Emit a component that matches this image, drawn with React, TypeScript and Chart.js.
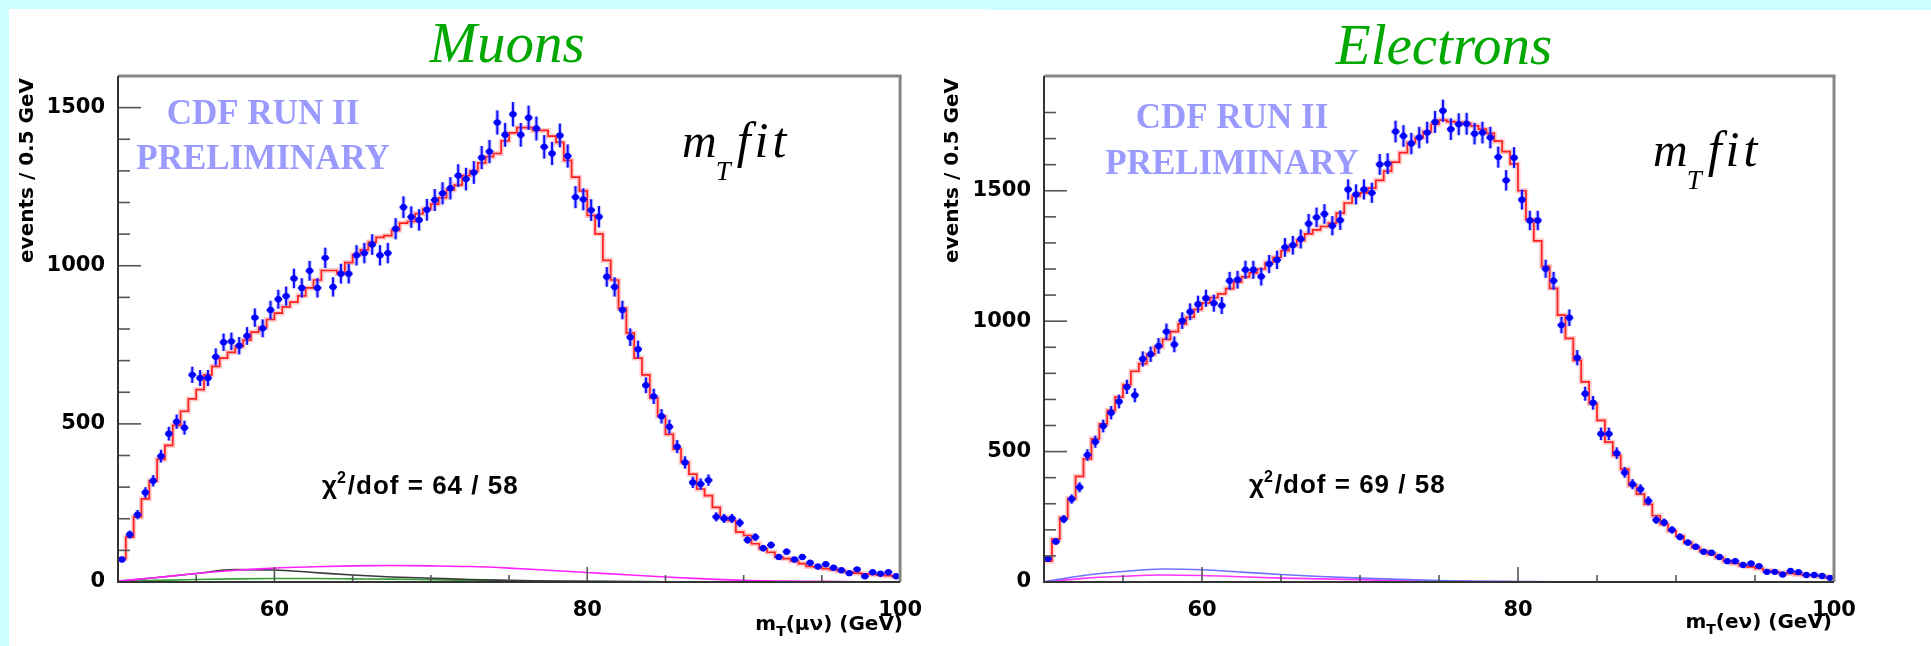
import React, { useEffect, useRef } from "react";
import { Chart, registerables } from "chart.js";

Chart.register(...registerables);
Chart.defaults.font.family = "DejaVu Sans";

// ---------- data ----------
const BIN_LOW = 50;
const BIN_WIDTH = 0.5;
const X_MIN = 50;
const X_MAX = 100;
const X_TICK_LABELS = [60, 80, 100];
const Y_TICK_LABELS = [0, 500, 1000, 1500];

const MUON_DATA = [
  71, 150, 213, 283, 320, 398, 469, 507, 488, 655,
  645, 645, 712, 758, 761, 747, 778, 836, 802, 860,
  894, 904, 960, 930, 984, 930, 1025, 933, 975, 975,
  1033, 1040, 1067, 1033, 1040, 1117, 1185, 1154, 1145, 1177,
  1208, 1229, 1245, 1285, 1274, 1295, 1342, 1361, 1453, 1414,
  1479, 1414, 1468, 1434, 1376, 1355, 1412, 1347, 1217, 1210,
  1176, 1155, 965, 933, 860, 774, 736, 622, 587, 524,
  491, 428, 378, 315, 310, 322, 206, 201, 201, 187,
  133, 142, 107, 117, 79, 96, 71, 79, 61, 49,
  56, 45, 37, 28, 40, 18, 31, 26, 31, 18,
];
const MUON_FIT = [
  75, 142, 206, 263, 320, 388, 432, 495, 540, 579,
  608, 655, 682, 708, 726, 745, 765, 790, 805, 830,
  850, 870, 885, 905, 930, 955, 985, 985, 975, 1010,
  1035, 1050, 1075, 1090, 1095, 1112, 1135, 1140, 1165, 1180,
  1195, 1215, 1240, 1255, 1285, 1300, 1325, 1345, 1355, 1395,
  1420, 1437, 1437, 1428, 1428, 1410, 1390, 1333, 1280, 1237,
  1159, 1101, 1017, 955, 866, 787, 708, 655, 582, 524,
  467, 420, 378, 341, 294, 273, 236, 204, 194, 158,
  147, 121, 105, 94, 79, 74, 66, 58, 49, 47,
  42, 39, 34, 31, 28, 26, 24, 22, 20, 18,
];
const ELEC_DATA = [
  89, 155, 241, 318, 363, 487, 538, 598, 649, 692,
  748, 716, 855, 873, 905, 960, 911, 1002, 1036, 1065,
  1088, 1069, 1060, 1155, 1159, 1197, 1197, 1171, 1219, 1235,
  1283, 1291, 1315, 1374, 1398, 1411, 1366, 1387, 1505, 1486,
  1505, 1492, 1601, 1604, 1727, 1710, 1681, 1704, 1723, 1764,
  1807, 1736, 1755, 1757, 1719, 1723, 1704, 1629, 1540, 1627,
  1466, 1386, 1386, 1201, 1155, 985, 1013, 860, 722, 687,
  568, 568, 494, 420, 375, 356, 311, 238, 228, 200,
  173, 151, 135, 116, 112, 96, 80, 80, 65, 71,
  61, 39, 39, 29, 42, 38, 27, 27, 23, 16,
];
const ELEC_FIT = [
  80, 164, 247, 320, 405, 472, 549, 606, 658, 709,
  757, 808, 837, 872, 901, 930, 960, 990, 1015, 1045,
  1070, 1090, 1105, 1125, 1150, 1170, 1185, 1200, 1225, 1245,
  1270, 1290, 1310, 1335, 1350, 1363, 1376, 1414, 1453, 1480,
  1492, 1510, 1540, 1575, 1610, 1646, 1685, 1704, 1727, 1755,
  1771, 1765, 1762, 1758, 1749, 1736, 1720, 1690, 1650, 1603,
  1500, 1390, 1308, 1210, 1126, 1023, 934, 850, 767, 684,
  620, 536, 485, 433, 370, 337, 298, 254, 221, 196,
  176, 151, 132, 119, 106, 93, 80, 71, 63, 58,
  52, 44, 39, 35, 33, 29, 26, 24, 21, 17,
];

// background curves, sampled at CURVE_X
const CURVE_X = [50, 52.5, 55, 57.5, 60, 62.5, 65, 67.5, 70, 72.5, 75, 77.5, 80, 82.5, 85, 87.5, 90, 92.5, 95, 97.5, 100];
const MUON_BKG_MAGENTA = [3, 14, 27, 37, 44, 48, 51, 52, 51, 49, 44, 37, 30, 23, 16, 10, 5, 3, 2, 1, 0];
const MUON_BKG_BLACK = [2, 14, 27, 39, 38, 30, 22, 16, 12, 8, 5, 3, 2, 1.5, 1, 0.5, 0, 0, 0, 0, 0];
const MUON_BKG_GREEN = [1, 5, 8, 10, 11, 11, 10, 9, 7, 5, 4, 3, 2, 1.5, 1, 0.5, 0.3, 0, 0, 0, 0];
const MUON_BKG_NAVY = [1, 1, 1, 1, 1, 1, 1, 1, 1, 1, 1, 1, 1, 1, 1, 1, 1, 1, 1, 1, 1];
const ELEC_BKG_BLUE = [1, 25, 40, 50, 47, 38, 29, 21, 15, 10, 6, 3, 2, 1, 0.5, 0, 0, 0, 0, 0, 0];
const ELEC_BKG_MAGENTA = [0, 14, 22, 27, 25, 20, 15, 12, 9, 5, 3, 2, 1, 0.5, 0, 0, 0, 0, 0, 0, 0];
const ELEC_BKG_NAVY = [1, 1, 1, 1, 1, 1, 1, 1, 1, 1, 1, 1, 1, 1, 1, 1, 1, 1, 1, 1, 1];

// ---------- panel specs ----------
type Curve = { values: number[]; color: string };
type Spec = {
  title: string;
  data: number[];
  fit: number[];
  curves: Curve[];
  yMax: number;
  chi2: string;
  particle: string;
  canvasLeft: number;
  canvasWidth: number;
  yAxisWidth: number;
  padRight: number;
  titleX: number; titleY: number;
  ytX: number; ytY: number;
  cdfX: number; cdfY1: number; cdfY2: number;
  mX: number; mY: number;
  chiX: number; chiY: number;
  xtRight: number; xtY: number;
};

const SPECS: Spec[] = [
  {
    title: "Muons",
    data: MUON_DATA,
    fit: MUON_FIT,
    curves: [
      { values: MUON_BKG_MAGENTA, color: "#ff22ff" },
      { values: MUON_BKG_BLACK, color: "#3a3a3a" },
      { values: MUON_BKG_GREEN, color: "#33a033" },
      { values: MUON_BKG_NAVY, color: "#3333aa" },
    ],
    yMax: 1600,
    chi2: "64 / 58",
    particle: "μν",
    canvasLeft: 0,
    canvasWidth: 930,
    yAxisWidth: 118,
    padRight: 25,
    titleX: 507, titleY: 62,
    ytX: 33, ytY: 78,
    cdfX: 263, cdfY1: 124, cdfY2: 169,
    mX: 682, mY: 157,
    chiX: 322, chiY: 494,
    xtRight: 903, xtY: 630,
  },
  {
    title: "Electrons",
    data: ELEC_DATA,
    fit: ELEC_FIT,
    curves: [
      { values: ELEC_BKG_BLUE, color: "#7070ff" },
      { values: ELEC_BKG_MAGENTA, color: "#ff33ff" },
      { values: ELEC_BKG_NAVY, color: "#5040a0" },
    ],
    yMax: 1940,
    chi2: "69 / 58",
    particle: "eν",
    canvasLeft: 930,
    canvasWidth: 1001,
    yAxisWidth: 114,
    padRight: 97,
    titleX: 514, titleY: 64,
    ytX: 28, ytY: 78,
    cdfX: 302, cdfY1: 128, cdfY2: 174,
    mX: 723, mY: 166,
    chiX: 319, chiY: 493,
    xtRight: 902, xtY: 628,
  },
];

function binCenter(i: number) {
  return BIN_LOW + BIN_WIDTH * (i + 0.5);
}

function line(ctx: CanvasRenderingContext2D, x1: number, y1: number, x2: number, y2: number) {
  ctx.beginPath();
  ctx.moveTo(x1, y1);
  ctx.lineTo(x2, y2);
  ctx.stroke();
}

function makePlugin(spec: Spec) {
  return {
    id: "rootStyle",
    beforeDatasetDraw(chart: any, args: any) {
      const ds = chart.data.datasets[args.index];
      if (ds.label !== "data") return;
      const ctx: CanvasRenderingContext2D = chart.ctx;
      const xs = chart.scales.x;
      const ys = chart.scales.y;
      const a = chart.chartArea;
      ctx.save();
      ctx.beginPath();
      ctx.rect(a.left, a.top, a.right - a.left, a.bottom - a.top);
      ctx.clip();
      const passes = [
        { color: "rgba(110,110,255,0.35)", w: 4.5 },
        { color: "#1010ff", w: 2 },
      ];
      for (const p of passes) {
        ctx.strokeStyle = p.color;
        ctx.lineWidth = p.w;
        for (const pt of ds.data) {
          const e = Math.sqrt(pt.y);
          const px = xs.getPixelForValue(pt.x);
          const py = ys.getPixelForValue(pt.y);
          line(ctx, px, ys.getPixelForValue(pt.y + e), px, ys.getPixelForValue(Math.max(pt.y - e, 0)));
          line(ctx, xs.getPixelForValue(pt.x - BIN_WIDTH / 2), py, xs.getPixelForValue(pt.x + BIN_WIDTH / 2), py);
        }
      }
      ctx.restore();
    },
    afterDraw(chart: any) {
      const ctx: CanvasRenderingContext2D = chart.ctx;
      const xs = chart.scales.x;
      const ys = chart.scales.y;
      const { left, right, top, bottom } = chart.chartArea;
      ctx.save();
      // inner tick marks
      ctx.strokeStyle = "#555";
      ctx.lineWidth = 1.6;
      for (const t of ys.ticks) {
        if (t.value % 100 !== 0 || t.value === 0) continue;
        const y = ys.getPixelForValue(t.value);
        const len = Y_TICK_LABELS.includes(t.value) ? 23 : 12;
        line(ctx, left, y, left + len, y);
      }
      for (const t of xs.ticks) {
        if (t.value === X_MIN || t.value === X_MAX) continue;
        const x = xs.getPixelForValue(t.value);
        const len = X_TICK_LABELS.includes(t.value) ? 15 : 7;
        line(ctx, x, bottom, x, bottom - len);
      }
      // frame
      ctx.strokeStyle = "#858585";
      ctx.lineWidth = 3;
      line(ctx, left, top, right + 1.5, top);
      line(ctx, right, top, right, bottom);
      ctx.strokeStyle = "#333";
      ctx.lineWidth = 2;
      line(ctx, left, top, left, bottom);
      line(ctx, left - 1, bottom, right, bottom);

      // title
      ctx.textBaseline = "alphabetic";
      ctx.textAlign = "center";
      ctx.fillStyle = "#00a800";
      ctx.font = 'italic 57px "Liberation Serif"';
      ctx.fillText(spec.title, spec.titleX, spec.titleY);

      // CDF label
      ctx.fillStyle = "#9a9aff";
      ctx.font = 'bold 35px "Liberation Serif"';
      ctx.fillText("CDF RUN II", spec.cdfX, spec.cdfY1);
      ctx.fillText("PRELIMINARY", spec.cdfX, spec.cdfY2);

      // m_T fit
      ctx.fillStyle = "#000";
      ctx.textAlign = "left";
      ctx.font = 'italic 48px "Liberation Serif"';
      ctx.fillText("m", spec.mX, spec.mY);
      const mw = ctx.measureText("m").width;
      ctx.font = 'italic 27px "Liberation Serif"';
      ctx.fillText("T", spec.mX + mw - 1, spec.mY + 23);
      const tw = ctx.measureText("T").width;
      ctx.font = 'italic 50px "Liberation Serif"';
      (ctx as any).letterSpacing = "4px";
      ctx.fillText("fit", spec.mX + mw + tw + 5, spec.mY);
      (ctx as any).letterSpacing = "0px";

      // chi2
      ctx.font = 'bold 26px "Liberation Sans"';
      (ctx as any).letterSpacing = "1px";
      ctx.fillText("χ", spec.chiX, spec.chiY);
      const cw = ctx.measureText("χ").width;
      ctx.font = 'bold 16px "Liberation Sans"';
      ctx.fillText("2", spec.chiX + cw - 1, spec.chiY - 11);
      const sw = ctx.measureText("2").width;
      ctx.font = 'bold 26px "Liberation Sans"';
      ctx.fillText("/dof = " + spec.chi2, spec.chiX + cw + sw, spec.chiY);
      (ctx as any).letterSpacing = "0px";

      // x-axis title
      const big = 'bold 20px "DejaVu Sans"';
      const small = 'bold 14px "DejaVu Sans"';
      const rest = "(" + spec.particle + ") (GeV)";
      ctx.font = big;
      const w1 = ctx.measureText("m").width;
      const w3 = ctx.measureText(rest).width;
      ctx.font = small;
      const w2 = ctx.measureText("T").width;
      const x0 = spec.xtRight - (w1 + w2 + w3);
      ctx.font = big;
      ctx.fillText("m", x0, spec.xtY);
      ctx.font = small;
      ctx.fillText("T", x0 + w1, spec.xtY + 6);
      ctx.font = big;
      ctx.fillText(rest, x0 + w1 + w2, spec.xtY);

      // y-axis title
      ctx.save();
      ctx.translate(spec.ytX, spec.ytY);
      ctx.rotate(-Math.PI / 2);
      ctx.textAlign = "right";
      ctx.font = 'bold 20px "DejaVu Sans"';
      ctx.fillText("events / 0.5 GeV", 0, 0);
      ctx.restore();

      ctx.restore();
    },
  };
}

function buildConfig(spec: Spec): any {
  const points = spec.data.map((v, i) => ({ x: binCenter(i), y: v }));
  const fitPts = [
    { x: X_MIN, y: spec.fit[0] },
    ...spec.fit.map((v, i) => ({ x: binCenter(i), y: v })),
    { x: X_MAX, y: spec.fit[spec.fit.length - 1] },
  ];
  const curveSets = spec.curves.map((c) => ({
    type: "line",
    label: "bkg",
    data: CURVE_X.map((x, i) => ({ x, y: c.values[i] })),
    borderColor: c.color,
    borderWidth: 1.6,
    pointRadius: 0,
    cubicInterpolationMode: "monotone",
    fill: false,
  }));
  const tickFont = { family: "DejaVu Sans", weight: "bold", size: 21 };
  return {
    type: "scatter",
    data: {
      datasets: [
        {
          type: "scatter",
          label: "data",
          data: points,
          pointRadius: 3.2,
          pointBackgroundColor: "#0000ff",
          pointBorderColor: "#0000ff",
          pointBorderWidth: 0,
          showLine: false,
        },
        {
          type: "line",
          label: "fit",
          data: fitPts,
          stepped: "middle",
          borderColor: "#ff2020",
          borderWidth: 1.7,
          pointRadius: 0,
          fill: false,
        },
        {
          type: "line",
          label: "fitglow",
          data: fitPts,
          stepped: "middle",
          borderColor: "rgba(255,120,120,0.38)",
          borderWidth: 5,
          pointRadius: 0,
          fill: false,
        },
        ...curveSets,
      ],
    },
    options: {
      responsive: false,
      animation: false,
      events: [],
      layout: { padding: { left: 0, right: spec.padRight, top: 76, bottom: 0 } },
      plugins: { legend: { display: false }, tooltip: { enabled: false }, title: { display: false } },
      scales: {
        x: {
          type: "linear",
          min: X_MIN,
          max: X_MAX,
          grid: { display: false },
          border: { display: false },
          ticks: {
            stepSize: 5,
            autoSkip: false,
            maxRotation: 0,
            color: "#000",
            padding: 8,
            font: tickFont,
            callback: (v: any) => (X_TICK_LABELS.includes(Number(v)) ? String(v) : ""),
          },
          afterFit: (s: any) => {
            s.height = 64;
          },
        },
        y: {
          type: "linear",
          min: 0,
          max: spec.yMax,
          grid: { display: false },
          border: { display: false },
          ticks: {
            stepSize: 100,
            autoSkip: false,
            color: "#000",
            padding: 5,
            font: tickFont,
            callback: (v: any) => (Y_TICK_LABELS.includes(Number(v)) ? String(v) : ""),
          },
          afterFit: (s: any) => {
            s.width = spec.yAxisWidth;
          },
        },
      },
    },
    plugins: [makePlugin(spec)],
  };
}

function Panel({ spec }: { spec: Spec }) {
  const ref = useRef<HTMLCanvasElement>(null);
  useEffect(() => {
    if (!ref.current) return;
    const chart = new Chart(ref.current, buildConfig(spec));
    return () => chart.destroy();
  }, [spec]);
  return (
    <canvas
      ref={ref}
      width={spec.canvasWidth}
      height={646}
      style={{ position: "absolute", left: spec.canvasLeft, top: 0, width: spec.canvasWidth, height: 646 }}
    />
  );
}

export default function App() {
  return (
    <div style={{ position: "absolute", left: 0, top: 0, width: 1931, height: 646, background: "#ccffff", overflow: "hidden" }}>
      <div style={{ position: "absolute", left: 9, top: 9, width: 1922, height: 637, background: "#ffffff" }} />
      <div style={{ position: "absolute", left: 989, top: 9, width: 942, height: 1, background: "#ccffff" }} />
      {SPECS.map((s) => (
        <Panel key={s.title} spec={s} />
      ))}
    </div>
  );
}
